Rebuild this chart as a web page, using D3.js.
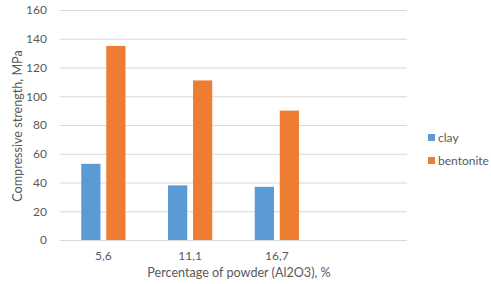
<!DOCTYPE html>
<html>
<head>
<meta charset="utf-8">
<script src="https://cdn.jsdelivr.net/npm/d3@7"></script>
<style>
  body { margin: 0; background: #fff; }
  text { font-family: Lato, "Open Sans", sans-serif; fill: #595959; }
</style>
</head>
<body>
<svg id="chart" width="491" height="284"></svg>
<script>
// data
const categories = ['5,6', '11,1', '16,7', ''];
const seriesNames = ['clay', 'bentonite'];
const clayValues = [53, 38, 37, null];
const bentoniteValues = [135, 111, 90, null];
const yTicks = [0, 20, 40, 60, 80, 100, 120, 140, 160];
const colors = {clay: '#5B9BD5', bentonite: '#ED7D31'};

const margin = {top: 10, left: 60, right: 84, bottom: 44};
const width = 491, height = 284;

const svg = d3.select('#chart');
const table = categories.map((c, i) => ({cat: c, clay: clayValues[i], bentonite: bentoniteValues[i]}));

const x = d3.scaleBand().domain(categories)
    .range([margin.left, width - margin.right])
    .paddingInner(0).paddingOuter(0);
const x1 = d3.scaleBand().domain(seriesNames)
    .range([0, x.bandwidth()])
    .paddingInner(0.23).paddingOuter(0.85);
const y = d3.scaleLinear().domain([0, 160]).range([height - margin.bottom, margin.top]);

// gridlines
svg.append('g').selectAll('line').data(yTicks)
    .join('line')
    .attr('x1', margin.left).attr('x2', width - margin.right)
    .attr('y1', d => y(d) + 0.5).attr('y2', d => y(d) + 0.5)
    .attr('stroke', '#D9D9D9').attr('stroke-width', 1);

// y tick labels
const yAxis = svg.append('g')
    .attr('transform', `translate(${margin.left - 8},0)`)
    .call(d3.axisLeft(y).tickValues(yTicks).tickSize(0).tickPadding(5));
yAxis.select('.domain').remove();
yAxis.selectAll('text').style('font-size', '12px').attr('fill', '#595959')
    .style('font-family', 'Lato, sans-serif');

// bars
const groups = svg.append('g').selectAll('g').data(table)
    .join('g')
    .attr('transform', d => `translate(${x(d.cat)},0)`);
groups.selectAll('rect')
    .data(d => seriesNames.filter(k => d[k] != null).map(k => ({key: k, value: d[k]})))
    .join('rect')
    .attr('x', d => x1(d.key))
    .attr('width', x1.bandwidth())
    .attr('y', d => y(d.value))
    .attr('height', d => y(0) - y(d.value))
    .attr('fill', d => colors[d.key]);

// x tick labels
const xAxis = svg.append('g')
    .attr('transform', `translate(0,${y(0)})`)
    .call(d3.axisBottom(x).tickSize(0).tickPadding(11));
xAxis.select('.domain').remove();
xAxis.selectAll('text').style('font-size', '12px').attr('fill', '#595959')
    .style('font-family', 'Lato, sans-serif');

// axis titles
svg.append('text')
    .attr('x', 239)
    .attr('y', 277)
    .attr('text-anchor', 'middle')
    .style('font-size', '12.6px')
    .text('Percentage of powder (Al2O3), %');
svg.append('text')
    .attr('transform', `translate(22,126) rotate(-90)`)
    .attr('text-anchor', 'middle')
    .style('font-size', '12.6px')
    .text('Compressive strength, MPa');

// legend
const legend = svg.append('g').attr('transform', 'translate(428,134)');
const li = legend.selectAll('g').data(seriesNames)
    .join('g')
    .attr('transform', (d, i) => `translate(0,${i * 23})`);
li.append('rect').attr('width', 7).attr('height', 7).attr('fill', d => colors[d]);
li.append('text').attr('x', 10).attr('y', 7.5)
    .style('font-size', '12px')
    .text(d => d);
</script>
</body>
</html>
